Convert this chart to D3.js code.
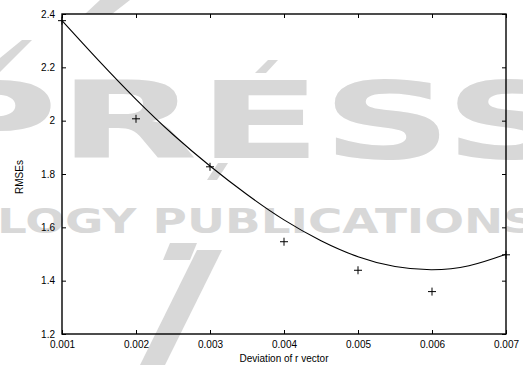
<!DOCTYPE html>
<html>
<head>
<meta charset="utf-8">
<script src="https://cdn.jsdelivr.net/npm/d3@7"></script>
<style>
  body { margin: 0; background: #fff; }
  svg { display: block; }
</style>
</head>
<body>
<div id="chart"></div>
<script>
// measured points (+ markers)
const deviations = [0.001, 0.002, 0.003, 0.004, 0.005, 0.006, 0.007];
const rmses = [2.375, 2.007, 1.827, 1.546, 1.439, 1.359, 1.497];

// fitted curve, every 0.0005
const fitX = [0.001, 0.0015, 0.002, 0.0025, 0.003, 0.0035, 0.004, 0.0045, 0.005, 0.0055, 0.006, 0.0065, 0.007];
const fitY = [2.375, 2.224, 2.080, 1.948, 1.830, 1.723, 1.628, 1.550, 1.490, 1.453, 1.441, 1.456, 1.499];

const xTicks = [0.001, 0.002, 0.003, 0.004, 0.005, 0.006, 0.007];
const yTicks = [1.2, 1.4, 1.6, 1.8, 2, 2.2, 2.4];

const W = 523, H = 365;
const margin = { top: 14, right: 17, bottom: 31, left: 62 };
const width = W - margin.left - margin.right;
const height = H - margin.top - margin.bottom;

const svg = d3.select('#chart').append('svg')
  .attr('width', W)
  .attr('height', H)
  .style('font-family', '"Liberation Sans", Arial, sans-serif');

// publisher watermark behind the plot
const wm = svg.append('g').attr('fill', '#d8d8d8');
wm.append('path').attr('d', 'M197,250 L222,250 L165,365 L140,365 Z');
wm.append('path').attr('d', 'M170,243 L197,243 L190,260 L163,260 Z');
wm.append('path').attr('d', 'M207,180 L218,163 L228,163 L217,180 Z');
wm.append('path').attr('d', 'M255,73 L268,60 L278,60 L266,73 Z');
wm.append('path').attr('d', 'M0,72 L0,58 L22,40 L32,40 Z');
wm.append('path').attr('d', 'M100,0 L130,0 L112,14 L85,14 Z');
wm.append('text')
  .attr('x', -75).attr('y', 158)
  .attr('textLength', 650).attr('lengthAdjust', 'spacingAndGlyphs')
  .style('font-family', '"DejaVu Sans", sans-serif')
  .style('font-weight', 'bold')
  .style('font-size', '107px')
  .text('PRESS');
wm.append('text')
  .attr('x', -3).attr('y', 233)
  .attr('textLength', 540).attr('lengthAdjust', 'spacingAndGlyphs')
  .style('font-family', '"DejaVu Sans", sans-serif')
  .style('font-weight', 'bold')
  .style('font-size', '34px')
  .text('LOGY PUBLICATIONS');

const g = svg.append('g')
  .attr('transform', `translate(${margin.left},${margin.top})`);

const x = d3.scaleLinear().domain([0.001, 0.007]).range([0, width]);
const y = d3.scaleLinear().domain([1.2, 2.4]).range([height, 0]);

// ticks point inward on all four sides
const tickLen = 4;
g.append('g')
  .attr('transform', `translate(0,${height})`)
  .call(d3.axisBottom(x).tickValues(xTicks).tickSize(-tickLen).tickPadding(tickLen + 3)
    .tickFormat(d3.format('.3f')));
g.append('g')
  .call(d3.axisTop(x).tickValues(xTicks).tickSize(-tickLen).tickFormat(''));
g.append('g')
  .call(d3.axisLeft(y).tickValues(yTicks).tickSize(-tickLen).tickPadding(tickLen + 3)
    .tickFormat(d3.format('')));
g.append('g')
  .attr('transform', `translate(${width},0)`)
  .call(d3.axisRight(y).tickValues(yTicks).tickSize(-tickLen).tickFormat(''));

g.selectAll('.domain').remove();
g.selectAll('.tick line').attr('stroke', '#000').attr('stroke-width', 1);
g.selectAll('.tick text').style('font-size', '10px').attr('fill', '#000');

g.append('rect')
  .attr('width', width).attr('height', height)
  .attr('fill', 'none').attr('stroke', '#000').attr('stroke-width', 1.4);

// fitted curve
const line = d3.line()
  .x((d, i) => x(fitX[i]))
  .y(d => y(d))
  .curve(d3.curveNatural);
g.append('path')
  .datum(fitY)
  .attr('d', line)
  .attr('fill', 'none')
  .attr('stroke', '#000')
  .attr('stroke-width', 1.1);

// + markers
const arm = 4;
g.selectAll('.pt')
  .data(rmses)
  .enter()
  .append('path')
  .attr('class', 'pt')
  .attr('d', (d, i) => {
    const cx = x(deviations[i]), cy = y(d);
    return `M${cx - arm},${cy}H${cx + arm}M${cx},${cy - arm}V${cy + arm}`;
  })
  .attr('stroke', '#000')
  .attr('stroke-width', 1);

// axis titles
svg.append('text')
  .attr('x', margin.left + width / 2)
  .attr('y', 362)
  .attr('text-anchor', 'middle')
  .style('font-size', '10px')
  .text('Deviation of r vector');

svg.append('text')
  .attr('transform', `translate(23,177) rotate(-90)`)
  .attr('text-anchor', 'middle')
  .style('font-size', '10px')
  .text('RMSEs');
</script>
</body>
</html>
